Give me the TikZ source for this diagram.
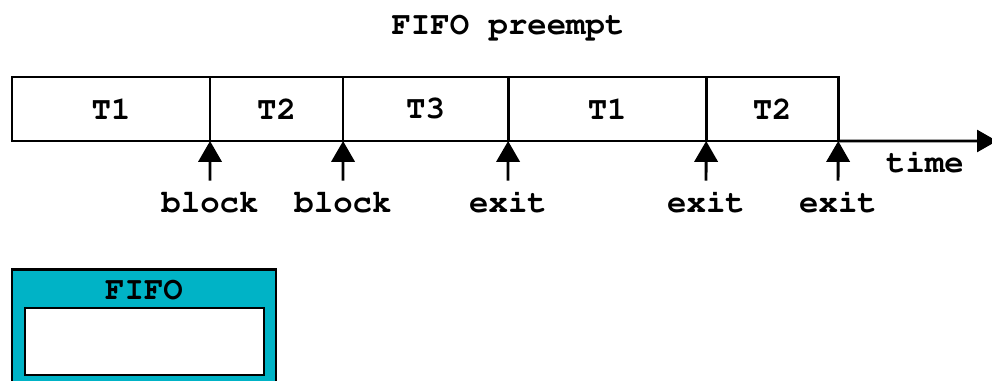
\documentclass[tikz,border=0pt]{standalone}
\usepackage[T1]{fontenc}
\renewcommand{\ttdefault}{pcr}
\usetikzlibrary{arrows.meta, positioning}

\definecolor{fifocyan}{RGB}{0,179,198}

\tikzset{
  slot/.style={draw, line width=2pt, minimum height=1.6cm, inner sep=0pt, outer sep=0pt},
  evt/.style={anchor=base, text height=0.65em, text depth=0pt, inner sep=2pt},
  up/.style={line width=2pt, shorten <=0.48cm, -{Triangle[length=0.52cm,width=0.58cm]}},
}

\begin{document}
\begin{tikzpicture}[x=0.025cm, y=-0.025cm, font=\ttfamily\bfseries\fontsize{23}{27}\selectfont]
  \useasboundingbox (0,0) rectangle (992,381);
  %
  \node (title) at (508,27) {FIFO preempt};
  %
  \node[slot, anchor=west, minimum width=4.95cm] (s1) at (12,109) {T1};
  \node[slot, minimum width=3.325cm, right=0pt of s1] (s2) {T2};
  \node[slot, minimum width=4.125cm, right=0pt of s2] (s3) {T3};
  \node[slot, minimum width=4.95cm,  right=0pt of s3] (s4) {T1};
  \node[slot, minimum width=3.3cm,   right=0pt of s4] (s5) {T2};
  %
  \coordinate (tend) at (997,141);
  \draw[line width=2pt, -{Triangle[length=0.5cm,width=0.55cm]}] (s5.south east) -- (tend);
  \node (time) at (925,162) {time};
  %
  \node[evt] (e1) at (210,212) {block};
  \node[evt] (e2) at (343,212) {block};
  \node[evt] (e3) at (508,212) {exit};
  \node[evt] (e4) at (706,212) {exit};
  \node[evt] (e5) at (838,212) {exit};
  %
  \draw[up] (e1.north) -- (s1.south east);
  \draw[up] (e2.north) -- (s2.south east);
  \draw[up] (e3.north) -- (s3.south east);
  \draw[up] (e4.north) -- (s4.south east);
  \draw[up] (e5.north) -- (s5.south east);
  %
  \node[draw, line width=2pt, fill=fifocyan, minimum width=6.6cm, minimum height=3.3cm,
        inner sep=0pt, anchor=north] (fifo) at (144,268) {};
  \node (fifotitle) at (144,290) {FIFO};
  \node[draw, line width=2pt, fill=white, minimum width=5.975cm, minimum height=1.675cm,
        inner sep=0pt] (queue) at (144.5,341.5) {};
\end{tikzpicture}
\end{document}
